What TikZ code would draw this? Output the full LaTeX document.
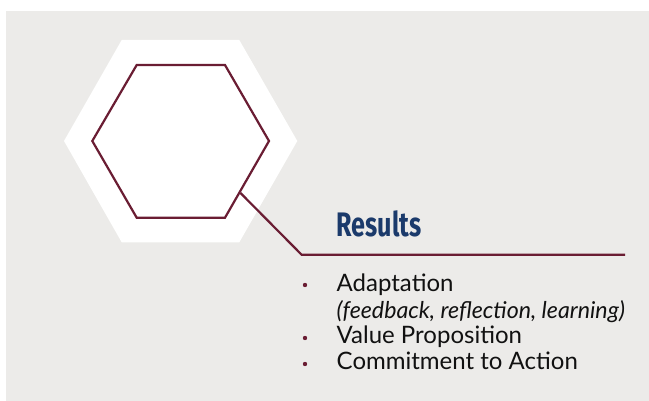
\documentclass[tikz,border=0pt]{standalone}
\usepackage{fontspec}
\setmainfont{Lato}
\newfontfamily\titlefont[FakeStretch=0.74]{Fira Sans}
\definecolor{bggray}{HTML}{ECEBE9}
\definecolor{maroon}{HTML}{6A1D33}
\definecolor{titleblue}{HTML}{1B3A6B}
\definecolor{bodytext}{HTML}{111111}
\tikzset{
  hexline/.style={draw=maroon, line width=2.2pt, line join=miter},
  bodyitem/.style={anchor=base west, inner sep=0pt, text=bodytext, font=\fontsize{24}{28}\selectfont},
  bulletdot/.style={circle, fill=maroon, inner sep=0pt, minimum size=4.4pt},
}
\begin{document}
\begin{tikzpicture}[x=1pt,y=-1pt]
\useasboundingbox (0,0) rectangle (649,401);
\fill[white] (0,0) rectangle (649,401);
\fill[bggray] (6,11) rectangle (649,401);
% outer white hexagon
\fill[white] (121.7,40) -- (239.3,40) -- (297.3,141) -- (239.3,242.3) -- (121.7,242.3) -- (64,141) -- cycle;
% inner hexagon
\draw[hexline] (136.7,65) -- (225,65) -- (269,141) -- (225,217.7) -- (136.7,217.7) -- (92.3,141) -- cycle;
% connector
\coordinate (c1) at (240.5,193);
\coordinate (c2) at (301.7,254.8);
\coordinate (c3) at (625,254.8);
\draw[draw=maroon, line width=2.2pt] (c1) -- (c2) -- (c3);
% title
\node[anchor=base west, inner sep=0pt, text=titleblue, font=\titlefont\bfseries\fontsize{34}{38}\selectfont] (title) at (336.5,236.7) {Results};
% list
\node[bodyitem] (i1) at (336.5,291) {Adaptation};
\node[bodyitem, font=\itshape\fontsize{23.2}{28}\selectfont] (i1b) at (336.5,318.3) {(feedback, reflection, learning)};
\node[bodyitem] (i2) at (336.5,344) {Value Proposition};
\node[bodyitem] (i3) at (336.5,370) {Commitment to Action};
\node[bulletdot] (b1) at (305,285) {};
\node[bulletdot] (b2) at (305,338) {};
\node[bulletdot] (b3) at (305,364) {};
\end{tikzpicture}
\end{document}
